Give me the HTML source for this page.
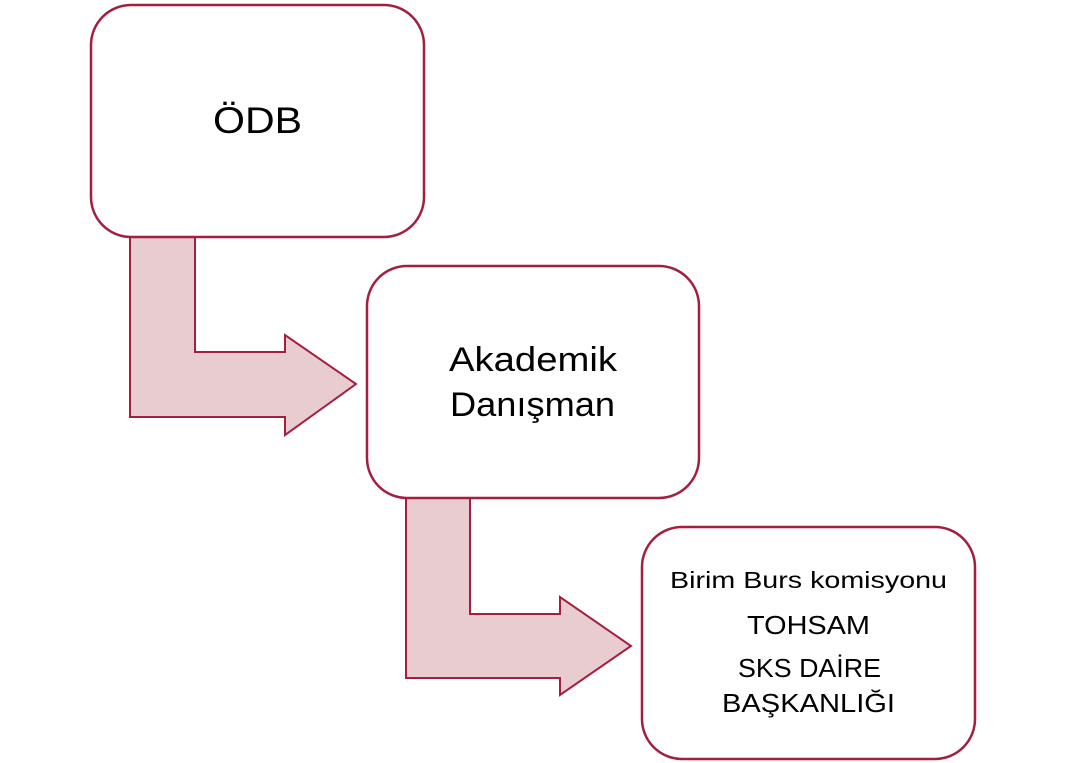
<!DOCTYPE html>
<html><head><meta charset="utf-8"><style>
html,body{margin:0;padding:0;background:#fff;}
svg{display:block;}
text{font-family:"Liberation Sans",sans-serif;fill:#000;}
</style></head><body>
<svg width="1066" height="763" viewBox="0 0 1066 763" xmlns="http://www.w3.org/2000/svg">
<g fill="#e8ccd0" stroke="#a31f3f" stroke-width="2">
<path d="M130,237 L195,237 L195,352 L285,352 L285,335 L356,384 L285,435 L285,417 L130,417 Z"/>
<path d="M406,498 L470,498 L470,614 L560,614 L560,597 L631,646 L560,695 L560,678 L406,678 Z"/>
</g>
<g fill="#fff" stroke="#a31f3f" stroke-width="2.5">
<rect x="91" y="5" width="333" height="232" rx="40"/>
<rect x="367" y="266" width="332" height="232" rx="40"/>
<rect x="642" y="527" width="333" height="232" rx="40"/>
</g>
<text x="213" y="133" font-size="37" textLength="89" lengthAdjust="spacingAndGlyphs">ÖDB</text>
<text x="449" y="371" font-size="34" textLength="168" lengthAdjust="spacingAndGlyphs">Akademik</text>
<text x="450" y="416" font-size="34" textLength="165" lengthAdjust="spacingAndGlyphs">Danışman</text>
<text x="670" y="588" font-size="23" textLength="277" lengthAdjust="spacingAndGlyphs">Birim Burs komisyonu</text>
<text x="747" y="634" font-size="26" textLength="123" lengthAdjust="spacingAndGlyphs">TOHSAM</text>
<text x="738" y="677" font-size="26" textLength="143" lengthAdjust="spacingAndGlyphs">SKS DAİRE</text>
<text x="722" y="712" font-size="26" textLength="173" lengthAdjust="spacingAndGlyphs">BAŞKANLIĞI</text>
</svg>
</body></html>
